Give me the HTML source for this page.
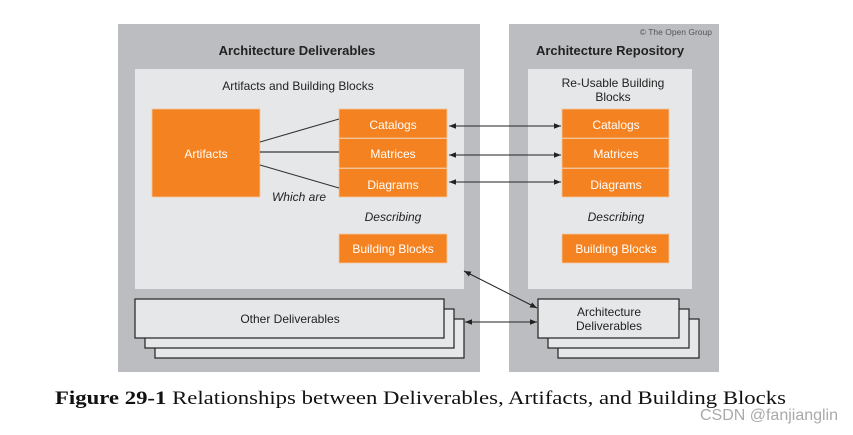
<!DOCTYPE html>
<html><head><meta charset="utf-8"><style>
html,body{margin:0;padding:0;background:#fff;width:853px;height:435px;overflow:hidden}
svg{display:block}
text{font-family:"Liberation Sans",Arial,sans-serif}
</style></head><body>
<svg width="853" height="435" viewBox="0 0 853 435" xmlns="http://www.w3.org/2000/svg">
<defs>
<marker id="a" viewBox="0 0 10 10" refX="10" refY="5" markerWidth="7" markerHeight="7" orient="auto-start-reverse"><path d="M0,1 L10,5 L0,9 z" fill="#222"/></marker>
</defs>
<rect width="853" height="435" fill="#fff"/>
<rect x="118" y="24" width="362" height="348" fill="#bcbdc0"/>
<rect x="509" y="24" width="210" height="348" fill="#bcbdc0"/>
<rect x="135" y="69" width="329" height="220" fill="#e6e7e8"/>
<rect x="528" y="69" width="164" height="220" fill="#e6e7e8"/>
<text x="712" y="35" font-size="8.5" fill="#555" text-anchor="end">© The Open Group</text>
<text x="297" y="55" font-size="13" font-weight="bold" fill="#222" text-anchor="middle">Architecture Deliverables</text>
<text x="610" y="55" font-size="13" font-weight="bold" fill="#222" text-anchor="middle">Architecture Repository</text>
<text x="298" y="90" font-size="12" fill="#222" text-anchor="middle">Artifacts and Building Blocks</text>
<text x="613" y="87" font-size="12" fill="#222" text-anchor="middle">Re-Usable Building</text>
<text x="613" y="101" font-size="12" fill="#222" text-anchor="middle">Blocks</text>
<g fill="#f58220" stroke="#f3c8a4" stroke-width="0.8">
<rect x="152" y="109" width="108" height="88"/>
<rect x="339" y="109" width="108" height="29"/>
<rect x="339" y="138.5" width="108" height="29.5"/>
<rect x="339" y="168.5" width="108" height="28.5"/>
<rect x="339" y="234" width="108" height="29"/>
<rect x="562" y="109" width="107" height="29"/>
<rect x="562" y="138.5" width="107" height="29.5"/>
<rect x="562" y="168.5" width="107" height="28.5"/>
<rect x="562" y="234" width="107" height="29"/>
</g>
<g fill="#fff" font-size="12" text-anchor="middle">
<text x="206" y="158">Artifacts</text>
<text x="393" y="129">Catalogs</text>
<text x="393" y="158">Matrices</text>
<text x="393" y="189">Diagrams</text>
<text x="393" y="253">Building Blocks</text>
<text x="616" y="129">Catalogs</text>
<text x="616" y="158">Matrices</text>
<text x="616" y="189">Diagrams</text>
<text x="616" y="253">Building Blocks</text>
</g>
<g font-size="12" font-style="italic" fill="#222" text-anchor="middle">
<text x="299" y="201">Which are</text>
<text x="393" y="221">Describing</text>
<text x="616" y="221">Describing</text>
</g>
<g stroke="#333" stroke-width="1.1">
<line x1="260" y1="142" x2="339" y2="119"/>
<line x1="260" y1="152" x2="339" y2="152" stroke="#555" stroke-width="1.5"/>
<line x1="260" y1="165" x2="339" y2="188"/>
</g>
<g stroke="#222" stroke-width="1" marker-start="url(#a)" marker-end="url(#a)">
<line x1="449" y1="126" x2="561" y2="126"/>
<line x1="449" y1="155" x2="561" y2="155"/>
<line x1="449" y1="182" x2="561" y2="182"/>
<line x1="464" y1="271" x2="537" y2="308"/>
<line x1="465" y1="322" x2="537" y2="322"/>
</g>
<g fill="#e6e7e8" stroke="#222" stroke-width="1.2">
<rect x="155" y="319" width="309" height="39"/>
<rect x="145" y="309" width="309" height="39"/>
<rect x="135" y="299" width="309" height="39"/>
<rect x="558" y="319" width="141" height="39"/>
<rect x="548" y="309" width="141" height="39"/>
<rect x="538" y="299" width="141" height="39"/>
</g>
<text x="290" y="323" font-size="12" fill="#222" text-anchor="middle">Other Deliverables</text>
<text x="609" y="316" font-size="12" fill="#222" text-anchor="middle">Architecture</text>
<text x="609" y="330" font-size="12" fill="#222" text-anchor="middle">Deliverables</text>
<text x="55" y="404" font-size="19" fill="#111" style="font-family:'Liberation Serif',serif" textLength="731" lengthAdjust="spacingAndGlyphs"><tspan font-weight="bold">Figure 29-1</tspan>  Relationships between Deliverables, Artifacts, and Building Blocks</text>
<text x="700" y="420" font-size="16" fill="#aaa" textLength="138" lengthAdjust="spacingAndGlyphs">CSDN @fanjianglin</text>
</svg>
</body></html>
